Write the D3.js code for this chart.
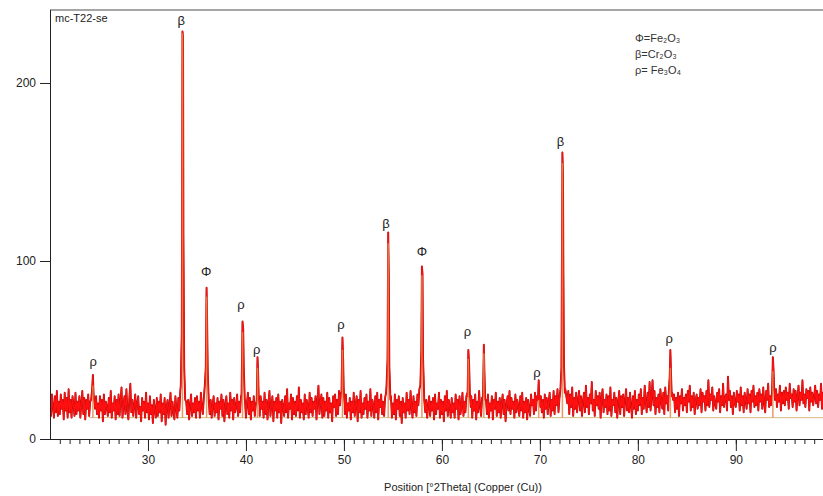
<!DOCTYPE html>
<html>
<head>
<meta charset="utf-8">
<script src="https://cdn.jsdelivr.net/npm/d3@7"></script>
<style>
  body { margin: 0; background: #fff; }
  svg { display: block; }
</style>
</head>
<body>
<div id="chart"></div>
<script>
// scan: counts every 0.1 deg from 20.0 to 99.0, one row per degree
const scanStart = 20;
const scanStep = 0.1;
const scanCounts = [
  23, 13, 25, 18, 12, 24, 15, 27, 13, 21,
  14, 25, 17, 22, 11, 26, 16, 23, 12, 28,
  15, 22, 12, 24, 19, 13, 26, 14, 21, 16,
  24, 12, 20, 27, 14, 23, 11, 22, 17, 25,
  13, 21, 15, 26, 12, 23, 17, 24, 14, 20,
  12, 24, 16, 22, 10, 25, 14, 21, 18, 13,
  23, 15, 27, 12, 20, 16, 24, 11, 22, 14,
  25, 13, 21, 29, 12, 19, 24, 14, 28, 16,
  11, 23, 31, 15, 22, 13, 19, 25, 12, 20,
  24, 14, 18, 10, 23, 16, 21, 12, 26, 15,
  20, 11, 24, 14, 19, 9, 22, 16, 12, 23,
  13, 21, 15, 25, 10, 20, 14, 23, 8, 18,
  22, 12, 19, 26, 13, 21, 15, 11, 24, 17,
  12, 23, 16, 27, 30, 20, 14, 24, 13, 21,
  14, 22, 11, 19, 25, 13, 20, 15, 23, 12,
  24, 16, 21, 12, 26, 18, 14, 23, 28, 22,
  33, 25, 30, 14, 22, 12, 19, 24, 13, 20,
  15, 23, 11, 21, 17, 25, 13, 22, 10, 19,
  24, 14, 20, 12, 26, 16, 22, 11, 23, 15,
  18, 25, 13, 21, 15, 24, 19, 27, 14, 22,
  12, 20, 26, 14, 23, 11, 21, 16, 24, 13,
  19, 25, 15, 22, 13, 24, 17, 21, 12, 26,
  14, 22, 11, 20, 27, 13, 19, 24, 10, 21,
  16, 23, 12, 25, 15, 21, 9, 22, 18, 13,
  24, 15, 28, 12, 20, 17, 25, 11, 23, 14,
  21, 13, 24, 16, 29, 12, 22, 15, 20, 11,
  25, 14, 22, 18, 12, 26, 15, 23, 13, 21,
  17, 24, 11, 22, 30, 14, 20, 25, 12, 23,
  13, 21, 16, 26, 12, 23, 15, 20, 10, 24,
  18, 25, 13, 22, 14, 27, 19, 26, 15, 21,
  22, 14, 25, 12, 20, 16, 23, 11, 21, 15,
  26, 13, 19, 24, 10, 22, 15, 27, 12, 20,
  14, 23, 17, 25, 12, 21, 16, 28, 13, 22,
  19, 12, 24, 15, 26, 11, 22, 18, 25, 14,
  21, 13, 23, 26, 30, 25, 22, 19, 24, 12,
  20, 14, 25, 11, 22, 17, 24, 13, 21, 9,
  23, 15, 20, 12, 26, 16, 22, 14, 27, 18,
  12, 24, 15, 21, 13, 25, 19, 28, 30, 24,
  26, 20, 28, 15, 22, 12, 19, 24, 13, 21,
  16, 23, 11, 25, 14, 20, 17, 26, 12, 22,
  14, 21, 10, 24, 16, 27, 13, 22, 18, 12,
  23, 15, 20, 12, 25, 17, 22, 11, 24, 14,
  19, 26, 13, 21, 15, 24, 26, 23, 20, 13,
  24, 12, 22, 16, 25, 11, 21, 15, 27, 18,
  13, 23, 26, 24, 29, 22, 14, 25, 12, 20,
  16, 24, 11, 22, 17, 26, 13, 21, 15, 23,
  12, 20, 25, 14, 22, 10, 19, 24, 16, 27,
  14, 23, 17, 21, 12, 25, 15, 22, 18, 13,
  24, 16, 26, 12, 21, 15, 23, 11, 22, 17,
  13, 25, 19, 22, 14, 26, 16, 24, 27, 21,
  18, 24, 15, 22, 12, 25, 17, 23, 14, 21,
  26, 13, 22, 16, 27, 14, 24, 19, 28, 15,
  23, 30, 26, 32, 34, 26, 28, 24, 20, 27,
  14, 25, 18, 29, 13, 23, 17, 26, 15, 22,
  27, 16, 24, 13, 21, 26, 15, 30, 18, 23,
  14, 25, 20, 32, 16, 22, 13, 27, 19, 24,
  17, 26, 12, 23, 28, 15, 22, 18, 25, 14,
  24, 16, 29, 13, 22, 19, 26, 15, 23, 12,
  21, 27, 14, 24, 18, 25, 13, 22, 28, 16,
  23, 15, 26, 19, 12, 24, 17, 27, 14, 22,
  16, 25, 19, 28, 14, 23, 17, 30, 21, 15,
  26, 18, 32, 16, 24, 33, 19, 27, 14, 23,
  18, 25, 15, 28, 21, 17, 26, 14, 29, 20,
  24, 16, 27, 19, 23, 26, 22, 25, 15, 23,
  17, 26, 13, 24, 20, 28, 16, 23, 19, 25,
  15, 27, 21, 30, 16, 24, 18, 26, 14, 22,
  25, 17, 23, 19, 28, 15, 26, 21, 24, 16,
  27, 19, 33, 18, 25, 22, 29, 16, 24, 20,
  17, 26, 21, 28, 15, 24, 19, 31, 18, 23,
  25, 16, 35, 22, 27, 18, 24, 14, 26, 20,
  18, 27, 21, 25, 16, 29, 19, 24, 15, 26,
  22, 17, 28, 20, 25, 15, 27, 21, 30, 18,
  24, 19, 26, 16, 28, 21, 25, 17, 29, 20,
  15, 27, 22, 31, 18, 24, 19, 27, 29, 26,
  23, 28, 18, 25, 21, 30, 16, 26, 20, 27,
  19, 29, 22, 26, 17, 31, 23, 25, 18, 28,
  21, 27, 16, 24, 30, 19, 26, 22, 33, 20,
  25, 18, 28, 23, 27, 16, 29, 21, 26, 19,
  24, 30, 20, 27, 18, 25, 22, 31, 17, 26,
  23
];

// peak profiles [2theta, counts]; they replace the scan points in their range
const peakProfiles = [
  [[24.2, 22], [24.3, 28], [24.38, 36], [24.45, 25], [24.55, 20]],
  [[33.35, 30], [33.45, 60], [33.52, 229], [33.58, 226], [33.62, 113], [33.7, 40], [33.8, 22]],
  [[35.8, 30], [35.9, 40], [35.98, 85], [36.03, 70], [36.1, 38], [36.2, 22]],
  [[39.55, 25], [39.65, 66], [39.72, 62], [39.78, 40], [39.88, 22]],
  [[41.1, 22], [41.18, 46], [41.24, 38], [41.3, 24], [41.4, 18]],
  [[49.75, 26], [49.85, 57], [49.92, 45], [49.98, 28], [50.08, 19]],
  [[54.35, 30], [54.45, 45], [54.52, 116], [54.58, 92], [54.64, 40], [54.75, 22]],
  [[57.8, 30], [57.9, 50], [57.96, 97], [58.02, 93], [58.08, 45], [58.2, 22]],
  [[62.62, 24], [62.7, 50], [62.78, 42], [62.85, 26], [62.95, 18]],
  [[64.2, 24], [64.28, 53], [64.34, 38], [64.42, 22]],
  [[69.8, 22], [69.88, 33], [69.95, 22], [70.05, 18]],
  [[72.1, 28], [72.2, 40], [72.3, 161], [72.36, 148], [72.4, 96], [72.46, 42], [72.55, 26]],
  [[83.15, 26], [83.25, 35], [83.32, 50], [83.38, 38], [83.46, 24]],
  [[93.7, 27], [93.78, 46], [93.84, 40], [93.92, 28], [94.0, 22]]
];

// reference pattern sticks [2theta, counts]
const stickBase = 12;
const sticks = [
  [24.38, 30], [33.52, 228], [35.98, 80], [39.65, 60], [41.18, 40],
  [49.85, 50], [54.52, 110], [57.96, 92], [62.7, 45], [64.28, 48],
  [69.88, 22], [72.3, 155], [83.32, 40], [93.78, 38]
];

// phase labels [symbol, 2theta, counts]
const peakLabels = [
  ["ρ", 24.4, 43], ["β", 33.4, 235], ["Φ", 35.95, 94], ["ρ", 39.5, 75],
  ["ρ", 41.1, 50], ["ρ", 49.7, 64], ["β", 54.3, 121], ["Φ", 57.95, 105],
  ["ρ", 62.6, 60], ["ρ", 69.7, 37], ["β", 72.1, 167], ["ρ", 83.2, 56],
  ["ρ", 93.8, 51]
];

const legendLines = ["Φ=Fe₂O₃", "β=Cr₂O₃", "ρ= Fe₃O₄"];
const xMajorTicks = [30, 40, 50, 60, 70, 80, 90];
const xMinorTicks = d3.range(21, 99);
const yTicks = [0, 100, 200];
const sampleName = "mc-T22-se";
const xTitle = "Position [°2Theta] (Copper (Cu))";

const width = 823;
const height = 496;
const margin = { top: 10, right: 0, bottom: 57, left: 50 };

const svg = d3.select("#chart").append("svg")
  .attr("width", width)
  .attr("height", height)
  .style("font-family", "'Liberation Sans', Arial, sans-serif");

const x = d3.scaleLinear().domain([20, 99]).range([margin.left, width + 1]);
const y = d3.scaleLinear().domain([0, 241]).range([height - margin.bottom, margin.top]);

// merge scan with peak profiles
let points = scanCounts.map((c, i) => [scanStart + i * scanStep, c]);
peakProfiles.forEach(p => {
  const lo = p[0][0], hi = p[p.length - 1][0];
  points = points.filter(d => d[0] < lo || d[0] > hi).concat(p);
});
points.sort((a, b) => a[0] - b[0]);

svg.append("clipPath").attr("id", "plot")
  .append("rect")
  .attr("x", margin.left).attr("y", margin.top)
  .attr("width", width - margin.left).attr("height", y(0) - margin.top);

const plot = svg.append("g").attr("clip-path", "url(#plot)");

// background line of the stick pattern
plot.append("line")
  .attr("x1", x(24)).attr("x2", x(99))
  .attr("y1", y(stickBase)).attr("y2", y(stickBase))
  .attr("stroke", "#c8a050").attr("stroke-width", 1).attr("opacity", 0.7);

const line = d3.line().x(d => x(d[0])).y(d => y(d[1]));

plot.append("path").datum(points)
  .attr("d", line)
  .attr("fill", "none")
  .attr("stroke", "#a80c0c")
  .attr("stroke-width", 1.9)
  .attr("stroke-linejoin", "round");

plot.append("path").datum(points)
  .attr("d", line)
  .attr("fill", "none")
  .attr("stroke", "#ff1010")
  .attr("stroke-width", 1.2)
  .attr("stroke-linejoin", "round");

plot.selectAll(".stick").data(sticks).join("line")
  .attr("class", "stick")
  .attr("x1", d => x(d[0])).attr("x2", d => x(d[0]))
  .attr("y1", y(stickBase)).attr("y2", d => y(d[1]))
  .attr("stroke", "#e8884a")
  .attr("stroke-width", 1.5)
  .attr("opacity", 0.85);

// phase labels
svg.selectAll(".lbl").data(peakLabels).join("text")
  .attr("class", "lbl")
  .attr("x", d => x(d[1]))
  .attr("y", d => y(d[2]) + 4)
  .attr("text-anchor", "middle")
  .attr("font-size", 13)
  .attr("fill", "#222")
  .text(d => d[0]);

// frame top
svg.append("line")
  .attr("x1", margin.left).attr("x2", width)
  .attr("y1", margin.top).attr("y2", margin.top)
  .attr("stroke", "#888").attr("stroke-width", 1.5);

// axes
const xAxisMinor = d3.axisBottom(x).tickValues(xMinorTicks).tickSize(5).tickFormat("");
svg.append("g").attr("transform", `translate(0,${y(0)})`).call(xAxisMinor)
  .call(g => g.select(".domain").remove())
  .selectAll("line").attr("stroke", "#222");

const xAxis = d3.axisBottom(x).tickValues(xMajorTicks).tickSize(12).tickSizeOuter(0).tickPadding(4);
svg.append("g").attr("transform", `translate(0,${y(0)})`).call(xAxis)
  .call(g => g.select(".domain").attr("stroke", "#222").attr("d", `M${margin.left},0.5H${width}`))
  .call(g => g.selectAll("text").attr("font-size", 12).attr("fill", "#222").attr("font-family", "'Liberation Sans', Arial, sans-serif"))
  .selectAll("line").attr("stroke", "#222");

const yAxis = d3.axisLeft(y).tickValues(yTicks).tickSize(10).tickSizeOuter(0).tickPadding(4);
svg.append("g").attr("transform", `translate(${margin.left},0)`).call(yAxis)
  .call(g => g.select(".domain").attr("stroke", "#222").attr("d", `M0.5,${margin.top}V${y(0)}`))
  .call(g => g.selectAll("text").attr("font-size", 12).attr("fill", "#222").attr("font-family", "'Liberation Sans', Arial, sans-serif"))
  .selectAll("line").attr("stroke", "#222");

// sample name
svg.append("text")
  .attr("x", margin.left + 5).attr("y", margin.top + 12)
  .attr("font-size", 11).attr("fill", "#222")
  .text(sampleName);

// legend
svg.append("g").selectAll("text").data(legendLines).join("text")
  .attr("x", 635)
  .attr("y", (d, i) => 42 + i * 16)
  .attr("font-size", 11)
  .attr("fill", "#333")
  .text(d => d);

// x title
svg.append("text")
  .attr("x", 463).attr("y", 491)
  .attr("text-anchor", "middle")
  .attr("font-size", 11)
  .attr("fill", "#222")
  .text(xTitle);
</script>
</body>
</html>
